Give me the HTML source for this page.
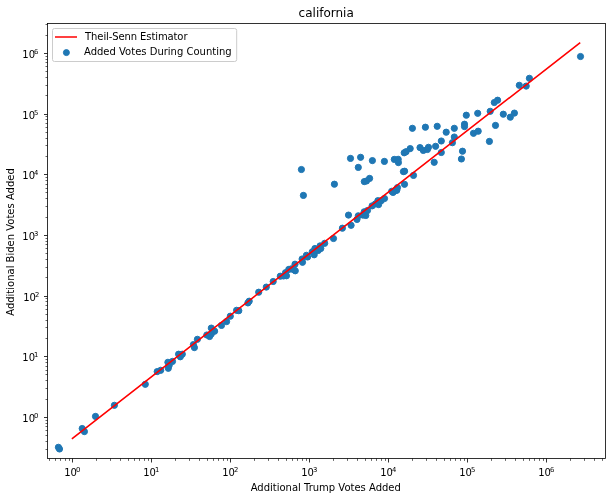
<!DOCTYPE html>
<html><head><meta charset="utf-8"><title>california</title>
<style>html,body{margin:0;padding:0;background:#fff}svg{display:block}text{font-family:"DejaVu Sans","Liberation Sans",sans-serif;fill:#000}</style></head><body>
<svg width="612" height="500" viewBox="0 0 612 500">
<rect x="0" y="0" width="612" height="500" fill="#fff"/>
<g fill="#1f77b4" stroke="#1f77b4" stroke-width="1">
<circle cx="58.4" cy="447.3" r="3.1"/>
<circle cx="59.5" cy="449.0" r="3.1"/>
<circle cx="82.2" cy="428.5" r="3.1"/>
<circle cx="84.4" cy="431.6" r="3.1"/>
<circle cx="95.5" cy="416.4" r="3.1"/>
<circle cx="114.4" cy="405.3" r="3.1"/>
<circle cx="145.3" cy="384.3" r="3.1"/>
<circle cx="157.2" cy="371.6" r="3.1"/>
<circle cx="160.7" cy="370.3" r="3.1"/>
<circle cx="168.3" cy="368.3" r="3.1"/>
<circle cx="169.2" cy="365.3" r="3.1"/>
<circle cx="167.9" cy="362.3" r="3.1"/>
<circle cx="172.5" cy="361.4" r="3.1"/>
<circle cx="178.6" cy="354.2" r="3.1"/>
<circle cx="182.3" cy="354.2" r="3.1"/>
<circle cx="180.3" cy="356.8" r="3.1"/>
<circle cx="193.4" cy="344.6" r="3.1"/>
<circle cx="194.4" cy="347.6" r="3.1"/>
<circle cx="197.4" cy="339.3" r="3.1"/>
<circle cx="206.8" cy="335.0" r="3.1"/>
<circle cx="209.6" cy="336.5" r="3.1"/>
<circle cx="211.3" cy="328.1" r="3.1"/>
<circle cx="214.6" cy="331.2" r="3.1"/>
<circle cx="221.5" cy="325.4" r="3.1"/>
<circle cx="226.6" cy="321.6" r="3.1"/>
<circle cx="230.3" cy="316.2" r="3.1"/>
<circle cx="236.6" cy="310.3" r="3.1"/>
<circle cx="238.8" cy="310.7" r="3.1"/>
<circle cx="247.9" cy="302.9" r="3.1"/>
<circle cx="249.2" cy="301.2" r="3.1"/>
<circle cx="258.7" cy="292.2" r="3.1"/>
<circle cx="266.3" cy="287.1" r="3.1"/>
<circle cx="273.2" cy="281.5" r="3.1"/>
<circle cx="280.3" cy="276.2" r="3.1"/>
<circle cx="283.5" cy="276.0" r="3.1"/>
<circle cx="285.5" cy="272.7" r="3.1"/>
<circle cx="288.8" cy="269.4" r="3.1"/>
<circle cx="291.4" cy="268.8" r="3.1"/>
<circle cx="295.3" cy="270.8" r="3.1"/>
<circle cx="295.0" cy="264.2" r="3.1"/>
<circle cx="302.5" cy="262.3" r="3.1"/>
<circle cx="302.1" cy="259.0" r="3.1"/>
<circle cx="306.4" cy="255.3" r="3.1"/>
<circle cx="307.6" cy="257.0" r="3.1"/>
<circle cx="314.2" cy="254.8" r="3.1"/>
<circle cx="312.3" cy="251.8" r="3.1"/>
<circle cx="314.9" cy="248.5" r="3.1"/>
<circle cx="318.2" cy="250.5" r="3.1"/>
<circle cx="320.1" cy="245.9" r="3.1"/>
<circle cx="320.8" cy="248.5" r="3.1"/>
<circle cx="324.7" cy="243.3" r="3.1"/>
<circle cx="333.5" cy="238.5" r="3.1"/>
<circle cx="342.4" cy="228.2" r="3.1"/>
<circle cx="348.5" cy="215.1" r="3.1"/>
<circle cx="351.1" cy="225.3" r="3.1"/>
<circle cx="357.0" cy="219.4" r="3.1"/>
<circle cx="358.3" cy="215.8" r="3.1"/>
<circle cx="362.9" cy="215.1" r="3.1"/>
<circle cx="365.8" cy="215.5" r="3.1"/>
<circle cx="364.2" cy="211.8" r="3.1"/>
<circle cx="367.5" cy="210.5" r="3.1"/>
<circle cx="372.1" cy="205.9" r="3.1"/>
<circle cx="375.3" cy="204.0" r="3.1"/>
<circle cx="378.6" cy="204.6" r="3.1"/>
<circle cx="377.9" cy="200.7" r="3.1"/>
<circle cx="381.2" cy="200.7" r="3.1"/>
<circle cx="384.5" cy="198.5" r="3.1"/>
<circle cx="391.7" cy="191.3" r="3.1"/>
<circle cx="394.9" cy="190.9" r="3.1"/>
<circle cx="397.5" cy="187.6" r="3.1"/>
<circle cx="404.5" cy="184.3" r="3.1"/>
<circle cx="396.8" cy="190.3" r="3.1"/>
<circle cx="393.0" cy="192.4" r="3.1"/>
<circle cx="211.3" cy="334.0" r="3.1"/>
<circle cx="286.5" cy="275.8" r="3.1"/>
<circle cx="293.6" cy="269.6" r="3.1"/>
<circle cx="301.4" cy="169.5" r="3.1"/>
<circle cx="303.4" cy="195.4" r="3.1"/>
<circle cx="334.4" cy="184.2" r="3.1"/>
<circle cx="350.5" cy="158.4" r="3.1"/>
<circle cx="360.6" cy="157.3" r="3.1"/>
<circle cx="358.3" cy="167.4" r="3.1"/>
<circle cx="372.4" cy="160.6" r="3.1"/>
<circle cx="384.4" cy="161.4" r="3.1"/>
<circle cx="364.3" cy="181.6" r="3.1"/>
<circle cx="366.5" cy="181.0" r="3.1"/>
<circle cx="369.6" cy="178.4" r="3.1"/>
<circle cx="394.3" cy="159.4" r="3.1"/>
<circle cx="398.2" cy="159.3" r="3.1"/>
<circle cx="398.4" cy="162.6" r="3.1"/>
<circle cx="404.2" cy="152.8" r="3.1"/>
<circle cx="406.1" cy="151.7" r="3.1"/>
<circle cx="410.2" cy="148.6" r="3.1"/>
<circle cx="412.4" cy="128.3" r="3.1"/>
<circle cx="425.4" cy="127.2" r="3.1"/>
<circle cx="437.2" cy="126.3" r="3.1"/>
<circle cx="420.0" cy="147.6" r="3.1"/>
<circle cx="423.3" cy="150.4" r="3.1"/>
<circle cx="427.4" cy="149.5" r="3.1"/>
<circle cx="428.5" cy="147.3" r="3.1"/>
<circle cx="435.6" cy="146.3" r="3.1"/>
<circle cx="441.3" cy="141.0" r="3.1"/>
<circle cx="446.2" cy="132.2" r="3.1"/>
<circle cx="454.3" cy="128.3" r="3.1"/>
<circle cx="454.3" cy="137.0" r="3.1"/>
<circle cx="452.4" cy="142.7" r="3.1"/>
<circle cx="441.3" cy="152.5" r="3.1"/>
<circle cx="434.2" cy="162.3" r="3.1"/>
<circle cx="403.4" cy="171.6" r="3.1"/>
<circle cx="404.6" cy="171.2" r="3.1"/>
<circle cx="413.5" cy="175.4" r="3.1"/>
<circle cx="462.5" cy="151.2" r="3.1"/>
<circle cx="461.4" cy="159.0" r="3.1"/>
<circle cx="464.5" cy="124.2" r="3.1"/>
<circle cx="464.5" cy="126.6" r="3.1"/>
<circle cx="466.3" cy="115.2" r="3.1"/>
<circle cx="477.7" cy="113.3" r="3.1"/>
<circle cx="473.5" cy="133.3" r="3.1"/>
<circle cx="478.2" cy="131.2" r="3.1"/>
<circle cx="490.2" cy="111.3" r="3.1"/>
<circle cx="494.3" cy="102.5" r="3.1"/>
<circle cx="497.6" cy="100.2" r="3.1"/>
<circle cx="495.5" cy="125.4" r="3.1"/>
<circle cx="489.4" cy="141.4" r="3.1"/>
<circle cx="503.3" cy="114.2" r="3.1"/>
<circle cx="510.3" cy="117.2" r="3.1"/>
<circle cx="514.4" cy="113.1" r="3.1"/>
<circle cx="519.3" cy="85.3" r="3.1"/>
<circle cx="526.2" cy="86.1" r="3.1"/>
<circle cx="529.4" cy="78.3" r="3.1"/>
<circle cx="580.5" cy="56.5" r="3.1"/>
</g>
<line x1="72.5" y1="438.3" x2="579.6" y2="43.1" stroke="#ff0000" stroke-width="1.6" stroke-linecap="square"/>
<g stroke="#000" stroke-width="0.8">
<line x1="72.5" y1="458.5" x2="72.5" y2="462.5"/>
<line x1="47.5" y1="417.5" x2="44.0" y2="417.5"/>
<line x1="151.5" y1="458.5" x2="151.5" y2="462.5"/>
<line x1="47.5" y1="356.5" x2="44.0" y2="356.5"/>
<line x1="230.5" y1="458.5" x2="230.5" y2="462.5"/>
<line x1="47.5" y1="296.5" x2="44.0" y2="296.5"/>
<line x1="309.5" y1="458.5" x2="309.5" y2="462.5"/>
<line x1="47.5" y1="235.5" x2="44.0" y2="235.5"/>
<line x1="388.5" y1="458.5" x2="388.5" y2="462.5"/>
<line x1="47.5" y1="174.5" x2="44.0" y2="174.5"/>
<line x1="467.5" y1="458.5" x2="467.5" y2="462.5"/>
<line x1="47.5" y1="114.5" x2="44.0" y2="114.5"/>
<line x1="546.5" y1="458.5" x2="546.5" y2="462.5"/>
<line x1="47.5" y1="53.5" x2="44.0" y2="53.5"/>
</g>
<g stroke="#000" stroke-width="0.6">
<line x1="47.5" y1="449.5" x2="45.5" y2="449.5"/>
<line x1="47.5" y1="441.5" x2="45.5" y2="441.5"/>
<line x1="49.5" y1="458.5" x2="49.5" y2="460.9"/>
<line x1="47.5" y1="435.5" x2="45.5" y2="435.5"/>
<line x1="55.5" y1="458.5" x2="55.5" y2="460.9"/>
<line x1="47.5" y1="430.5" x2="45.5" y2="430.5"/>
<line x1="60.5" y1="458.5" x2="60.5" y2="460.9"/>
<line x1="47.5" y1="426.5" x2="45.5" y2="426.5"/>
<line x1="65.5" y1="458.5" x2="65.5" y2="460.9"/>
<line x1="47.5" y1="423.5" x2="45.5" y2="423.5"/>
<line x1="69.5" y1="458.5" x2="69.5" y2="460.9"/>
<line x1="47.5" y1="420.5" x2="45.5" y2="420.5"/>
<line x1="96.5" y1="458.5" x2="96.5" y2="460.9"/>
<line x1="47.5" y1="399.5" x2="45.5" y2="399.5"/>
<line x1="110.5" y1="458.5" x2="110.5" y2="460.9"/>
<line x1="47.5" y1="388.5" x2="45.5" y2="388.5"/>
<line x1="120.5" y1="458.5" x2="120.5" y2="460.9"/>
<line x1="47.5" y1="380.5" x2="45.5" y2="380.5"/>
<line x1="128.5" y1="458.5" x2="128.5" y2="460.9"/>
<line x1="47.5" y1="374.5" x2="45.5" y2="374.5"/>
<line x1="134.5" y1="458.5" x2="134.5" y2="460.9"/>
<line x1="47.5" y1="370.5" x2="45.5" y2="370.5"/>
<line x1="139.5" y1="458.5" x2="139.5" y2="460.9"/>
<line x1="47.5" y1="366.5" x2="45.5" y2="366.5"/>
<line x1="144.5" y1="458.5" x2="144.5" y2="460.9"/>
<line x1="47.5" y1="362.5" x2="45.5" y2="362.5"/>
<line x1="148.5" y1="458.5" x2="148.5" y2="460.9"/>
<line x1="47.5" y1="359.5" x2="45.5" y2="359.5"/>
<line x1="175.5" y1="458.5" x2="175.5" y2="460.9"/>
<line x1="47.5" y1="338.5" x2="45.5" y2="338.5"/>
<line x1="189.5" y1="458.5" x2="189.5" y2="460.9"/>
<line x1="47.5" y1="327.5" x2="45.5" y2="327.5"/>
<line x1="199.5" y1="458.5" x2="199.5" y2="460.9"/>
<line x1="47.5" y1="320.5" x2="45.5" y2="320.5"/>
<line x1="207.5" y1="458.5" x2="207.5" y2="460.9"/>
<line x1="47.5" y1="314.5" x2="45.5" y2="314.5"/>
<line x1="213.5" y1="458.5" x2="213.5" y2="460.9"/>
<line x1="47.5" y1="309.5" x2="45.5" y2="309.5"/>
<line x1="218.5" y1="458.5" x2="218.5" y2="460.9"/>
<line x1="47.5" y1="305.5" x2="45.5" y2="305.5"/>
<line x1="223.5" y1="458.5" x2="223.5" y2="460.9"/>
<line x1="47.5" y1="301.5" x2="45.5" y2="301.5"/>
<line x1="227.5" y1="458.5" x2="227.5" y2="460.9"/>
<line x1="47.5" y1="298.5" x2="45.5" y2="298.5"/>
<line x1="254.5" y1="458.5" x2="254.5" y2="460.9"/>
<line x1="47.5" y1="277.5" x2="45.5" y2="277.5"/>
<line x1="268.5" y1="458.5" x2="268.5" y2="460.9"/>
<line x1="47.5" y1="267.5" x2="45.5" y2="267.5"/>
<line x1="278.5" y1="458.5" x2="278.5" y2="460.9"/>
<line x1="47.5" y1="259.5" x2="45.5" y2="259.5"/>
<line x1="286.5" y1="458.5" x2="286.5" y2="460.9"/>
<line x1="47.5" y1="253.5" x2="45.5" y2="253.5"/>
<line x1="292.5" y1="458.5" x2="292.5" y2="460.9"/>
<line x1="47.5" y1="248.5" x2="45.5" y2="248.5"/>
<line x1="297.5" y1="458.5" x2="297.5" y2="460.9"/>
<line x1="47.5" y1="244.5" x2="45.5" y2="244.5"/>
<line x1="302.5" y1="458.5" x2="302.5" y2="460.9"/>
<line x1="47.5" y1="241.5" x2="45.5" y2="241.5"/>
<line x1="306.5" y1="458.5" x2="306.5" y2="460.9"/>
<line x1="47.5" y1="238.5" x2="45.5" y2="238.5"/>
<line x1="333.5" y1="458.5" x2="333.5" y2="460.9"/>
<line x1="47.5" y1="217.5" x2="45.5" y2="217.5"/>
<line x1="347.5" y1="458.5" x2="347.5" y2="460.9"/>
<line x1="47.5" y1="206.5" x2="45.5" y2="206.5"/>
<line x1="357.5" y1="458.5" x2="357.5" y2="460.9"/>
<line x1="47.5" y1="198.5" x2="45.5" y2="198.5"/>
<line x1="365.5" y1="458.5" x2="365.5" y2="460.9"/>
<line x1="47.5" y1="192.5" x2="45.5" y2="192.5"/>
<line x1="371.5" y1="458.5" x2="371.5" y2="460.9"/>
<line x1="47.5" y1="188.5" x2="45.5" y2="188.5"/>
<line x1="376.5" y1="458.5" x2="376.5" y2="460.9"/>
<line x1="47.5" y1="184.5" x2="45.5" y2="184.5"/>
<line x1="381.5" y1="458.5" x2="381.5" y2="460.9"/>
<line x1="47.5" y1="180.5" x2="45.5" y2="180.5"/>
<line x1="385.5" y1="458.5" x2="385.5" y2="460.9"/>
<line x1="47.5" y1="177.5" x2="45.5" y2="177.5"/>
<line x1="412.5" y1="458.5" x2="412.5" y2="460.9"/>
<line x1="47.5" y1="156.5" x2="45.5" y2="156.5"/>
<line x1="426.5" y1="458.5" x2="426.5" y2="460.9"/>
<line x1="47.5" y1="145.5" x2="45.5" y2="145.5"/>
<line x1="436.5" y1="458.5" x2="436.5" y2="460.9"/>
<line x1="47.5" y1="138.5" x2="45.5" y2="138.5"/>
<line x1="444.5" y1="458.5" x2="444.5" y2="460.9"/>
<line x1="47.5" y1="132.5" x2="45.5" y2="132.5"/>
<line x1="450.5" y1="458.5" x2="450.5" y2="460.9"/>
<line x1="47.5" y1="127.5" x2="45.5" y2="127.5"/>
<line x1="455.5" y1="458.5" x2="455.5" y2="460.9"/>
<line x1="47.5" y1="123.5" x2="45.5" y2="123.5"/>
<line x1="460.5" y1="458.5" x2="460.5" y2="460.9"/>
<line x1="47.5" y1="119.5" x2="45.5" y2="119.5"/>
<line x1="464.5" y1="458.5" x2="464.5" y2="460.9"/>
<line x1="47.5" y1="116.5" x2="45.5" y2="116.5"/>
<line x1="491.5" y1="458.5" x2="491.5" y2="460.9"/>
<line x1="47.5" y1="95.5" x2="45.5" y2="95.5"/>
<line x1="505.5" y1="458.5" x2="505.5" y2="460.9"/>
<line x1="47.5" y1="85.5" x2="45.5" y2="85.5"/>
<line x1="515.5" y1="458.5" x2="515.5" y2="460.9"/>
<line x1="47.5" y1="77.5" x2="45.5" y2="77.5"/>
<line x1="523.5" y1="458.5" x2="523.5" y2="460.9"/>
<line x1="47.5" y1="71.5" x2="45.5" y2="71.5"/>
<line x1="529.5" y1="458.5" x2="529.5" y2="460.9"/>
<line x1="47.5" y1="66.5" x2="45.5" y2="66.5"/>
<line x1="534.5" y1="458.5" x2="534.5" y2="460.9"/>
<line x1="47.5" y1="62.5" x2="45.5" y2="62.5"/>
<line x1="539.5" y1="458.5" x2="539.5" y2="460.9"/>
<line x1="47.5" y1="59.5" x2="45.5" y2="59.5"/>
<line x1="543.5" y1="458.5" x2="543.5" y2="460.9"/>
<line x1="47.5" y1="56.5" x2="45.5" y2="56.5"/>
<line x1="570.5" y1="458.5" x2="570.5" y2="460.9"/>
<line x1="47.5" y1="35.5" x2="45.5" y2="35.5"/>
<line x1="584.5" y1="458.5" x2="584.5" y2="460.9"/>
<line x1="47.5" y1="24.5" x2="45.5" y2="24.5"/>
<line x1="594.5" y1="458.5" x2="594.5" y2="460.9"/>
<line x1="602.5" y1="458.5" x2="602.5" y2="460.9"/>
</g>
<rect x="47.5" y="23.5" width="558.0" height="435.0" fill="none" stroke="#000" stroke-width="0.8"/>
<text x="64.2" y="475.8" font-size="10">10<tspan dx="-1" dy="-4.1" font-size="6.8">0</tspan></text>
<text x="22.3" y="422.05" font-size="10">10<tspan dx="-1" dy="-4.1" font-size="6.8">0</tspan></text>
<text x="143.2" y="475.8" font-size="10">10<tspan dx="-1" dy="-4.1" font-size="6.8">1</tspan></text>
<text x="22.3" y="361.05" font-size="10">10<tspan dx="-1" dy="-4.1" font-size="6.8">1</tspan></text>
<text x="222.2" y="475.8" font-size="10">10<tspan dx="-1" dy="-4.1" font-size="6.8">2</tspan></text>
<text x="23.2" y="301.05" font-size="10">10<tspan dx="-1" dy="-4.1" font-size="6.8">2</tspan></text>
<text x="301.2" y="475.8" font-size="10">10<tspan dx="-1" dy="-4.1" font-size="6.8">3</tspan></text>
<text x="22.3" y="240.05" font-size="10">10<tspan dx="-1" dy="-4.1" font-size="6.8">3</tspan></text>
<text x="380.2" y="475.8" font-size="10">10<tspan dx="-1" dy="-4.1" font-size="6.8">4</tspan></text>
<text x="22.3" y="179.05" font-size="10">10<tspan dx="-1" dy="-4.1" font-size="6.8">4</tspan></text>
<text x="459.2" y="475.8" font-size="10">10<tspan dx="-1" dy="-4.1" font-size="6.8">5</tspan></text>
<text x="22.3" y="119.05" font-size="10">10<tspan dx="-1" dy="-4.1" font-size="6.8">5</tspan></text>
<text x="538.2" y="475.8" font-size="10">10<tspan dx="-1" dy="-4.1" font-size="6.8">6</tspan></text>
<text x="22.3" y="58.05" font-size="10">10<tspan dx="-1" dy="-4.1" font-size="6.8">6</tspan></text>
<text x="326.2" y="17.3" font-size="12" text-anchor="middle">california</text>
<text x="325.75" y="491" font-size="10" text-anchor="middle">Additional Trump Votes Added</text>
<text transform="translate(13.7,242) rotate(-90)" font-size="10" text-anchor="middle">Additional Biden Votes Added</text>
<rect x="52.5" y="28.5" width="184.2" height="33" rx="2" ry="2" fill="#fff" fill-opacity="0.8" stroke="#ccc" stroke-width="1"/>
<line x1="55.75" y1="37" x2="76.25" y2="37" stroke="#ff0000" stroke-width="1.5" stroke-linecap="square"/>
<circle cx="66.4" cy="52.6" r="3" fill="#1f77b4" stroke="#1f77b4" stroke-width="1"/>
<text x="85.1" y="40.2" font-size="10" textLength="102.4" lengthAdjust="spacing">Theil-Senn Estimator</text>
<text x="84.0" y="54.9" font-size="10">Added Votes During Counting</text>
</svg></body></html>
